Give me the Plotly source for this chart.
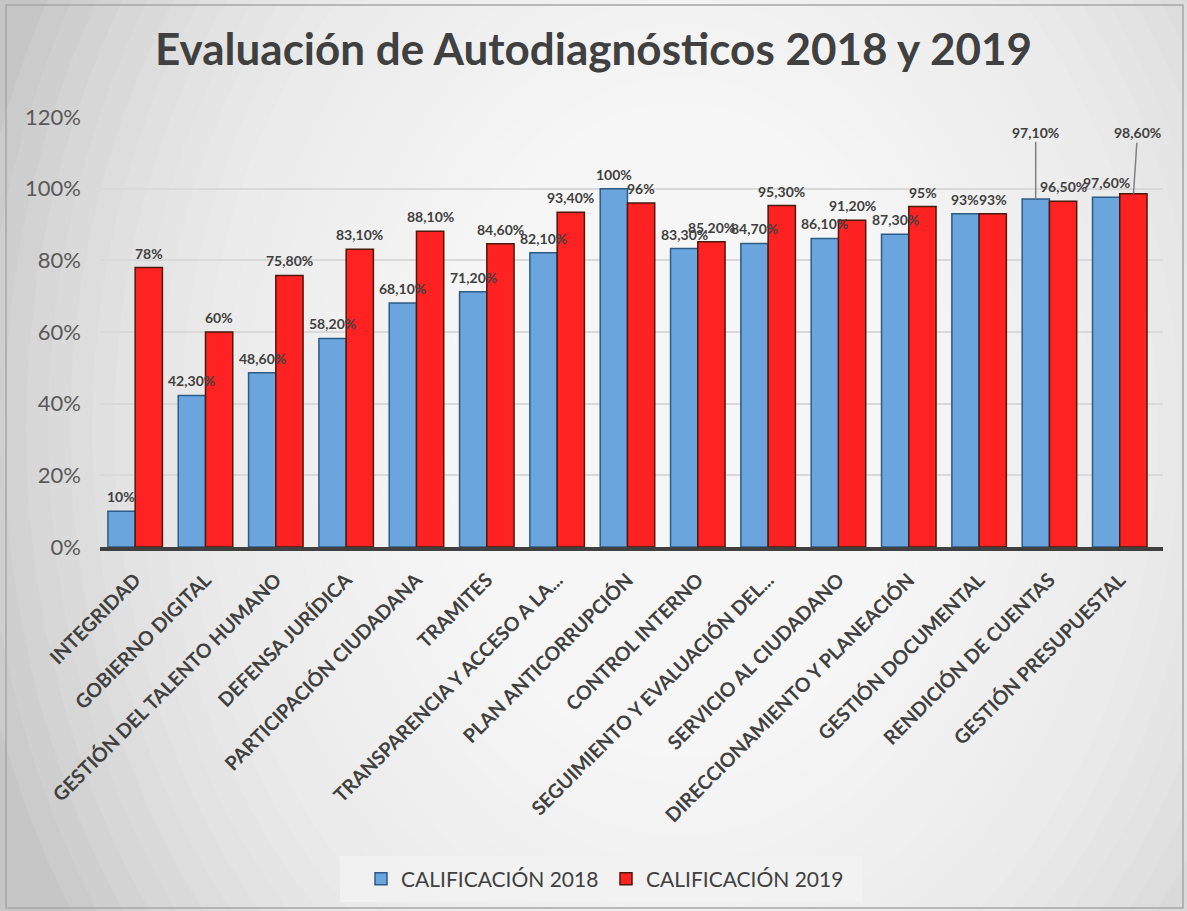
import plotly.graph_objects as go

categories = [
    "INTEGRIDAD", "GOBIERNO DIGITAL", "GESTIÓN DEL TALENTO HUMANO", "DEFENSA JURÍDICA",
    "PARTICIPACIÓN CIUDADANA", "TRAMITES", "TRANSPARENCIA Y ACCESO A LA...",
    "PLAN ANTICORRUPCIÓN", "CONTROL INTERNO", "SEGUIMIENTO Y EVALUACIÓN DEL...",
    "SERVICIO AL CIUDADANO", "DIRECCIONAMIENTO Y PLANEACIÓN", "GESTIÓN DOCUMENTAL",
    "RENDICIÓN DE CUENTAS", "GESTIÓN PRESUPUESTAL",
]
cal_2018 = [10, 42.3, 48.6, 58.2, 68.1, 71.2, 82.1, 100, 83.3, 84.7, 86.1, 87.3, 93, 97.1, 97.6]
cal_2019 = [78, 60, 75.8, 83.1, 88.1, 84.6, 93.4, 96, 85.2, 95.3, 91.2, 95, 93, 96.5, 98.6]
series_names = ["CALIFICACIÓN 2018", "CALIFICACIÓN 2019"]
# labels pulled up with a leader line: (series, index, ax, ay in px)
leader_labels = [(0, 13, 0, -67), (1, 14, 4, -61)]
y_ticks = [0, 0.2, 0.4, 0.6, 0.8, 1.0, 1.2]
y_tick_labels = ["0%", "20%", "40%", "60%", "80%", "100%", "120%"]


def fmt(v):
    if abs(v - round(v)) < 1e-9:
        return f"{int(round(v))}%"
    return f"{v:.2f}".replace(".", ",") + "%"


FONT = "Lato"
TXT = "#404040"
LABEL_FONT = dict(family=FONT, size=14, color=TXT, weight="bold")

# plot area geometry (pixels)
FIG_W, FIG_H = 1187, 911
L, R, T, B = 100, 1163, 117, 547
W, H = R - L, B - T
BARGAP = 0.225
n = len(categories)
bar_off = (W / n) * (1 - BARGAP) / 4  # px from category centre to each bar centre

fig = go.Figure()
fig.add_trace(go.Bar(
    x=categories, y=[v / 100 for v in cal_2018], name=series_names[0],
    marker=dict(color="#6aa6dd", line=dict(color="#2c5b88", width=1.5)),
))
fig.add_trace(go.Bar(
    x=categories, y=[v / 100 for v in cal_2019], name=series_names[1],
    marker=dict(color="#ff2222", line=dict(color="#4a1a0c", width=1.5)),
))

leader = {(s, i): (ax, ay) for s, i, ax, ay in leader_labels}
for s, vals in enumerate((cal_2018, cal_2019)):
    sign = -1 if s == 0 else 1
    for i, v in enumerate(vals):
        if (s, i) in leader:
            ax, ay = leader[(s, i)]
            fig.add_annotation(
                x=categories[i], y=v / 100, xshift=sign * bar_off, text=fmt(v),
                showarrow=True, arrowhead=0, arrowwidth=1.5, arrowcolor="#808080",
                ax=ax, ay=ay, font=LABEL_FONT,
            )
        else:
            fig.add_annotation(
                x=categories[i], y=v / 100, xshift=sign * bar_off, yshift=4,
                text=fmt(v), showarrow=False, yanchor="bottom", font=LABEL_FONT,
            )


def px(x):
    return (x - L) / W


def py(y):
    return (B - y) / H


shapes = []
# soft light gradient (lighter centre, grey edges)
cx, cy = 680, 430
layers = 30
for k in range(layers):
    rx = 720 - k * 22
    ry = 900 - k * 26
    shapes.append(dict(type="circle", xref="paper", yref="paper", layer="below",
                       x0=px(cx - rx), x1=px(cx + rx), y0=py(cy + ry), y1=py(cy - ry),
                       fillcolor="rgba(255,255,255,0.095)", line=dict(width=0)))
# legend box background
shapes.append(dict(type="rect", xref="paper", yref="paper", layer="below",
                   x0=px(340), x1=px(862), y0=py(902), y1=py(856),
                   fillcolor="rgba(242,242,242,0.85)", line=dict(width=0)))
# outer frame
shapes.append(dict(type="rect", xref="paper", yref="paper", layer="above",
                   x0=px(6), x1=px(1183), y0=py(908), y1=py(5),
                   line=dict(color="#a6a6a6", width=1.5), fillcolor="rgba(0,0,0,0)"))

fig.update_layout(
    width=FIG_W, height=FIG_H,
    margin=dict(l=L, r=FIG_W - R, t=T, b=FIG_H - B, autoexpand=False),
    paper_bgcolor="#c6c6c6", plot_bgcolor="rgba(0,0,0,0)",
    title=dict(text="<b>Evaluación de Autodiagnósticos 2018 y 2019</b>",
               x=0.5, xanchor="center", y=1 - 50 / FIG_H, yanchor="middle",
               font=dict(family=FONT, size=44, color="#404040")),
    barmode="group", bargap=BARGAP, bargroupgap=0.0,
    shapes=shapes,
    showlegend=True,
    legend=dict(orientation="h", x=606 / FIG_W, xref="container", xanchor="center",
                y=1 - 879 / FIG_H, yref="container", yanchor="middle",
                bgcolor="rgba(0,0,0,0)", borderwidth=0,
                font=dict(family=FONT, size=21, color="#404040"),
                entrywidth=200, entrywidthmode="pixels", traceorder="normal"),
    font=dict(family=FONT, color=TXT),
)
fig.update_xaxes(tickangle=-45, tickfont=dict(family=FONT, size=19.5, color=TXT, weight="bold"),
                 showline=True, linecolor="#404040", linewidth=4, ticks="", showgrid=False,
                 ticklabelstandoff=10)
fig.update_yaxes(range=[0, 1.2], tickvals=y_ticks, ticktext=y_tick_labels,
                 tickfont=dict(family=FONT, size=22, color="#595959"),
                 showgrid=True, gridcolor="#d9d9d9", gridwidth=2, zeroline=False,
                 showline=False, ticks="", ticklabelstandoff=18)

fig.write_html("out.html", config={"displayModeBar": False},
               post_script="document.body.style.margin='0';")
